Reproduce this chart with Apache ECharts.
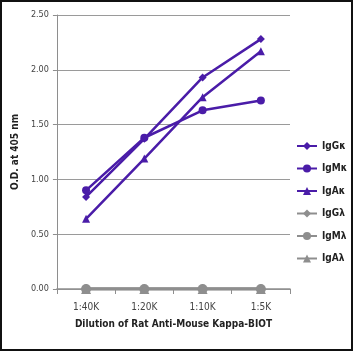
<!DOCTYPE html>
<html>
<head>
<meta charset="utf-8">
<script src="https://cdn.jsdelivr.net/npm/echarts@6/dist/echarts.min.js"></script>
<style>
  html, body { margin: 0; padding: 0; background: #fff; }
  #wrap { width: 349px; height: 347px; border: 2px solid #111; }
  #chart { width: 349px; height: 347px; }
</style>
</head>
<body>
<div id="wrap"><div id="chart"></div></div>
<script>
let dilutions = ['1:40K', '1:20K', '1:10K', '1:5K'];
let seriesNames = ['IgGκ', 'IgMκ', 'IgAκ', 'IgGλ', 'IgMλ', 'IgAλ'];
let igGk = [0.84, 1.37, 1.93, 2.28];
let igMk = [0.90, 1.38, 1.63, 1.72];
let igAk = [0.64, 1.19, 1.75, 2.17];
let igGl = [0, 0, 0, 0];
let igMl = [0, 0, 0, 0];
let igAl = [0, 0, 0, 0];

let chart = echarts.init(document.querySelector('#chart'));
let font = "'Liberation Sans Narrow', 'DejaVu Sans Condensed', 'Liberation Sans', sans-serif";
let purple = '#4a1ca8';
let grey = '#8e8e8e';

function makeSeries(name, data, color, symbol, size, z, width) {
  return {
    name: name,
    type: 'line',
    data: data,
    symbol: symbol,
    symbolSize: size,
    z: z,
    lineStyle: { color: color, width: width },
    itemStyle: { color: color },
    emphasis: { disabled: true }
  };
}

let option = {
  animation: false,
  grid: { left: 51, right: 61, top: 13, bottom: 60 },
  legend: {
    orient: 'vertical',
    left: 289,
    top: 134,
    itemGap: 12.5,
    itemWidth: 20,
    itemHeight: 10,
    itemGap: 12.5,
    textStyle: { fontFamily: font, fontSize: 10, fontWeight: 'bold', color: '#222' },
    data: seriesNames
  },
  xAxis: {
    type: 'category',
    data: dilutions,
    name: 'Dilution of Rat Anti-Mouse Kappa-BIOT',
    nameLocation: 'middle',
    nameGap: 30,
    nameTextStyle: { fontFamily: font, fontSize: 10, fontWeight: 'bold', color: '#222' },
    axisLine: { lineStyle: { color: grey, width: 1.5 } },
    axisTick: { show: true, lineStyle: { color: grey } },
    axisLabel: { fontFamily: font, fontSize: 10, color: '#444', margin: 13 }
  },
  yAxis: {
    type: 'value',
    min: 0,
    max: 2.5,
    interval: 0.5,
    name: 'O.D. at 405 nm',
    nameLocation: 'middle',
    nameGap: 30,
    nameTextStyle: { fontFamily: font, fontSize: 10, fontWeight: 'bold', color: '#222' },
    axisLine: { show: true, lineStyle: { color: grey } },
    axisTick: { show: true, length: 4, lineStyle: { color: grey } },
    splitLine: { lineStyle: { color: '#9a9a9a', width: 1 } },
    axisLabel: {
      fontFamily: font, fontSize: 9, color: '#444', margin: 8,
      formatter: v => v.toFixed(2)
    }
  },
  series: [
    makeSeries('IgGλ', igGl, grey, 'diamond', 10, 2, 3),
    makeSeries('IgMλ', igMl, grey, 'circle', 10, 2, 3),
    makeSeries('IgAλ', igAl, grey, 'triangle', 10, 2, 3),
    makeSeries('IgGκ', igGk, purple, 'diamond', 8, 3, 2.5),
    makeSeries('IgMκ', igMk, purple, 'circle', 8, 3, 2.5),
    makeSeries('IgAκ', igAk, purple, 'triangle', 8, 3, 2.5)
  ]
};
chart.setOption(option);
</script>
</body>
</html>
